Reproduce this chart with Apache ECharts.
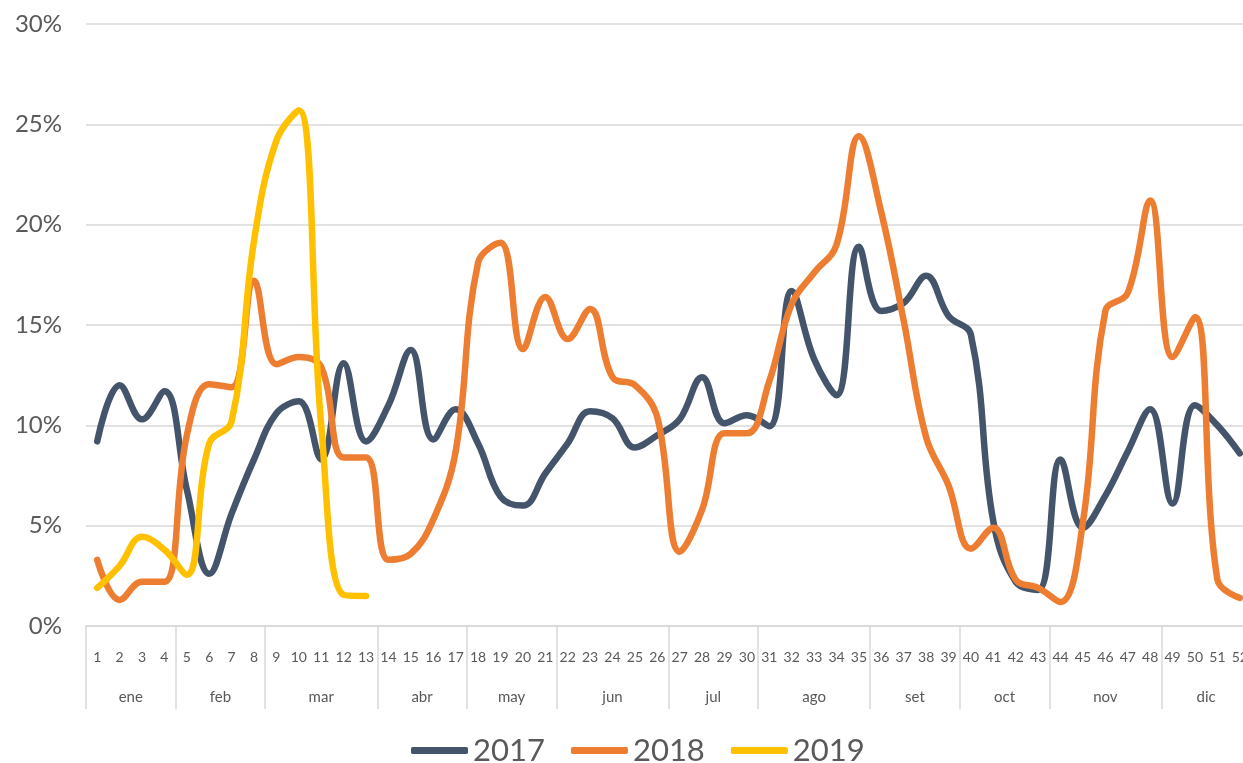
<!DOCTYPE html>
<html>
<head>
<meta charset="utf-8">
<script src="https://cdn.jsdelivr.net/npm/echarts@6/dist/echarts.min.js"></script>
<style>
html,body{margin:0;padding:0;background:#fff;}
#chart{width:1243px;height:763px;}
</style>
</head>
<body>
<div id="chart"></div>
<script>
const weeks = Array.from({length: 52}, (_, i) => String(i + 1));
const months = ['ene','feb','mar','abr','may','jun','jul','ago','set','oct','nov','dic'];
const monthBounds = [0,4,8,13,17,21,26,30,35,39,43,48,52];
const yTicks = [0,0.05,0.10,0.15,0.20,0.25,0.30];

const s2017 = [9.2,12.0,10.3,11.7,6.8,2.6,5.6,8.3,10.6,11.2,8.3,13.1,9.2,11.0,
  13.75,9.3,10.8,9.1,6.45,6.0,7.6,9.1,10.7,10.35,8.9,9.5,10.3,12.4,10.1,10.5,
  9.95,16.7,13.3,11.5,18.9,15.7,16.1,17.45,15.45,14.5,5.2,2.2,1.8,8.3,4.9,6.5,8.7,10.8,6.1,11.0,10.0,8.6];
const s2018 = [3.3,1.3,2.2,2.2,9.5,12.05,11.9,17.2,13.05,13.4,12.9,8.4,8.4,3.3,
  3.6,5.3,8.7,18.1,19.1,13.8,16.4,14.3,15.8,12.4,12.0,10.4,3.7,5.8,9.6,9.6,
  12.2,16.05,17.6,19.0,24.4,20.6,15.2,9.4,7.0,3.85,4.9,2.3,1.9,1.2,5.2,15.7,16.6,21.2,13.4,15.4,2.3,1.4];
const s2019 = [1.9,3.0,4.45,3.8,2.55,9.1,10.2,19.2,24.2,25.7,10.0,1.55,1.5];

const toFrac = a => a.map(v => v / 100);
const monthCenters = months.map((m, i) => (monthBounds[i] + monthBounds[i + 1]) / 2);

const font = 'Lato, "Open Sans", sans-serif';
const gridGray = '#d9d9d9';
const textGray = '#595959';

const chart = echarts.init(document.getElementById('chart'), null, {renderer: 'canvas'});
chart.setOption({
  animation: false,
  grid: {left: 86, width: 1165, top: 24, bottom: 137, containLabel: false, outerBoundsMode: 'none'},
  legend: {
    data: ['2017','2018','2019'],
    top: 730,
    left: 406,
    icon: 'roundRect',
    itemWidth: 57,
    itemHeight: 7,
    itemGap: 26,
    textStyle: {fontSize: 31, color: textGray, fontFamily: font}
  },
  xAxis: [
    {
      type: 'category',
      data: weeks,
      boundaryGap: true,
      axisLine: {lineStyle: {color: gridGray, width: 1.5}},
      axisTick: {interval: 0, length: 43, lineStyle: {color: gridGray, width: 1.5}},
      axisLabel: {interval: 0, fontSize: 14, color: textGray, fontFamily: font, margin: 24}
    },
    {
      type: 'value',
      min: 0, max: 52,
      position: 'bottom',
      axisLine: {show: false},
      splitLine: {show: false},
      axisTick: {show: true, customValues: monthBounds, length: 83, lineStyle: {color: gridGray, width: 1.5}},
      axisLabel: {
        customValues: monthCenters,
        margin: 64,
        fontSize: 15, color: textGray, fontFamily: font,
        formatter: v => { const i = monthCenters.indexOf(v); return i >= 0 ? months[i] : ''; }
      }
    }
  ],
  yAxis: {
    type: 'value',
    min: 0, max: 0.3, interval: 0.05,
    axisLine: {show: false},
    axisTick: {show: false},
    splitLine: {lineStyle: {color: gridGray, width: 1.5}},
    axisLabel: {
      fontSize: 24, color: textGray, fontFamily: font, margin: 24,
      customValues: yTicks,
      formatter: v => Math.round(v * 100) + '%'
    }
  },
  series: [
    {name: '2017', type: 'line', data: toFrac(s2017), smooth: 0.4, symbol: 'none', xAxisIndex: 0,
      lineStyle: {color: '#44546A', width: 6.5, cap: 'round', join: 'round'}, itemStyle: {color: '#44546A'}},
    {name: '2018', type: 'line', data: toFrac(s2018), smooth: 0.4, symbol: 'none', xAxisIndex: 0,
      lineStyle: {color: '#ED7D31', width: 6.5, cap: 'round', join: 'round'}, itemStyle: {color: '#ED7D31'}},
    {name: '2019', type: 'line', data: toFrac(s2019), smooth: 0.4, symbol: 'none', xAxisIndex: 0,
      lineStyle: {color: '#FFC000', width: 6.5, cap: 'round', join: 'round'}, itemStyle: {color: '#FFC000'}}
  ]
});
</script>
</body>
</html>
